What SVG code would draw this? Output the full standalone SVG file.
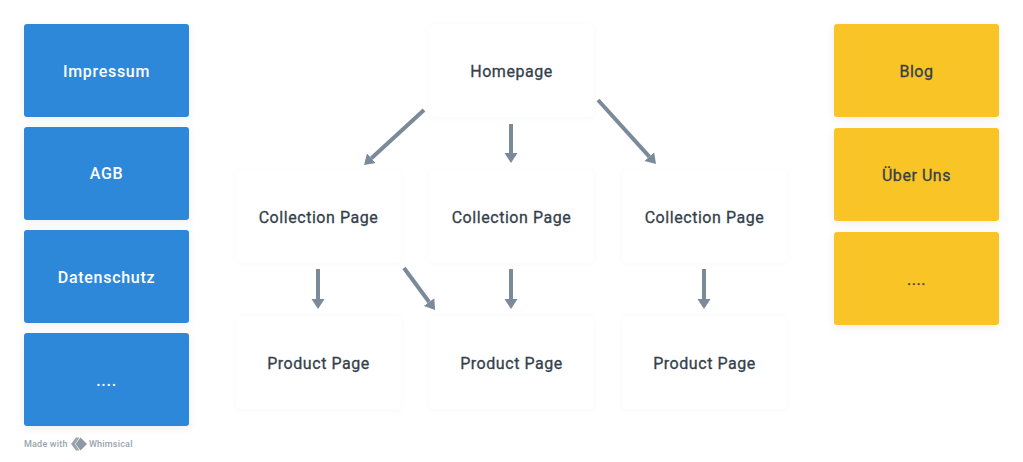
<svg xmlns="http://www.w3.org/2000/svg" width="1023" height="462" viewBox="0 0 1023 462">
<defs>
<filter id="s" x="-10%" y="-10%" width="120%" height="125%"><feDropShadow dx="0" dy="2" stdDeviation="4" flood-color="#000" flood-opacity="0.07"/></filter>
<filter id="w" x="-10%" y="-10%" width="120%" height="125%"><feDropShadow dx="0" dy="1" stdDeviation="3" flood-color="#000" flood-opacity="0.022"/></filter>
<marker id="a" markerUnits="userSpaceOnUse" markerWidth="11" markerHeight="14" refX="0" refY="7" orient="auto"><path d="M0 .5L10 7L0 13.500Z" fill="#7a8a9a"/></marker>
</defs>
<style>
text{font-family:"Roboto","Liberation Sans",sans-serif;font-weight:400;font-size:16px;text-anchor:middle;letter-spacing:.55px}
.b rect{fill:#2d88da;filter:url(#s)}.b text{fill:#fff;font-weight:500;letter-spacing:.7px}
.y rect{fill:#f9c425;filter:url(#s)}.y text{fill:#343f4b;stroke:#343f4b;stroke-width:.3px}
.n rect{fill:#fff;filter:url(#w)}.n text{fill:#343f4b;stroke:#343f4b;stroke-width:.3px}
#connectors line{stroke:#7a8a9a;stroke-width:4;marker-end:url(#a)}
#watermark text{font-size:9px;fill:#9aa3ad;letter-spacing:.2px;text-anchor:start;font-weight:500}
</style>
<rect width="1023" height="462" fill="#fff"/>
<g id="impressum" class="b"><rect x="24" y="24" width="165" height="93" rx="3"/><text x="106.500" y="77">Impressum</text></g>
<g id="agb" class="b"><rect x="24" y="127" width="165" height="93" rx="3"/><text x="106.500" y="179">AGB</text></g>
<g id="datenschutz" class="b"><rect x="24" y="230" width="165" height="93" rx="3"/><text x="106.500" y="283">Datenschutz</text></g>
<g id="more-left" class="b"><rect x="24" y="333" width="165" height="93" rx="3"/><text x="106.500" y="386">....</text></g>
<g id="blog" class="y"><rect x="834" y="24" width="165" height="93" rx="3"/><text x="916.500" y="77">Blog</text></g>
<g id="ueber-uns" class="y"><rect x="834" y="128" width="165" height="93" rx="3"/><text x="916.500" y="181">Über Uns</text></g>
<g id="more-right" class="y"><rect x="834" y="232" width="165" height="93" rx="3"/><text x="916.500" y="285">....</text></g>
<g id="homepage" class="n"><rect x="429" y="24" width="165" height="93" rx="6"/><text x="511.500" y="77">Homepage</text></g>
<g id="collection-1" class="n"><rect x="236" y="170" width="165" height="93" rx="6"/><text x="318.500" y="223">Collection Page</text></g>
<g id="collection-2" class="n"><rect x="429" y="170" width="165" height="93" rx="6"/><text x="511.500" y="223">Collection Page</text></g>
<g id="collection-3" class="n"><rect x="622" y="170" width="165" height="93" rx="6"/><text x="704.500" y="223">Collection Page</text></g>
<g id="product-1" class="n"><rect x="236" y="316" width="165" height="93" rx="6"/><text x="318.500" y="369">Product Page</text></g>
<g id="product-2" class="n"><rect x="429" y="316" width="165" height="93" rx="6"/><text x="511.500" y="369">Product Page</text></g>
<g id="product-3" class="n"><rect x="622" y="316" width="165" height="93" rx="6"/><text x="704.500" y="369">Product Page</text></g>
<g id="connectors">
<line x1="424" y1="110" x2="371.400" y2="158.200"/>
<line x1="511" y1="124" x2="511" y2="153"/>
<line x1="598" y1="100" x2="649.300" y2="156.600"/>
<line x1="318" y1="269" x2="318" y2="299"/>
<line x1="404" y1="268" x2="429.100" y2="302"/>
<line x1="511" y1="269" x2="511" y2="299"/>
<line x1="704" y1="269" x2="704" y2="299"/>
</g>
<g id="watermark"><text x="24" y="447">Made with</text><path d="M76 437.500L71 444L76 450.500L79.500 450.500L75 444L79.500 437.500Z" fill="#9aa3ad"/><path d="M80.500 437.500L87 444L80.500 450.500L75.500 444Z" fill="#8f99a4"/><text x="89" y="447">Whimsical</text></g>
</svg>
